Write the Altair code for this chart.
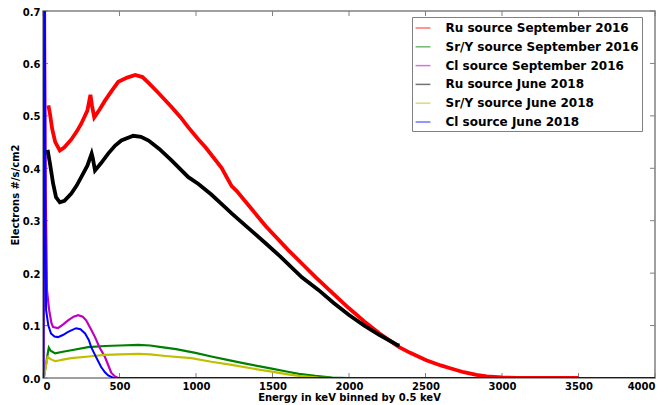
import altair as alt
import pandas as pd

series_names = [
    "Ru source September 2016",
    "Sr/Y source September 2016",
    "Cl source September 2016",
    "Ru source June 2018",
    "Sr/Y source June 2018",
    "Cl source June 2018",
]
series_colors = ["#ff0000", "#008000", "#bf00bf", "#000000", "#bfbf00", "#0000ff"]
series_widths = [3.8, 2.2, 2.2, 3.8, 2.2, 2.0]

ru16_e = [35, 45, 60, 80, 110, 140, 185, 220, 250, 290, 310, 320, 335, 370, 405, 450, 492, 550,
          603, 650, 690, 750, 840, 900, 950, 1016, 1062, 1167, 1233, 1265, 1350, 1455, 1600, 1700,
          1783, 1900, 2000, 2100, 2200, 2328, 2400, 2505, 2600, 2656, 2750, 2833, 2900, 3000, 3100, 3500]
ru16_v = [0.52, 0.505, 0.475, 0.45, 0.434, 0.44, 0.455, 0.47, 0.485, 0.51, 0.54, 0.52, 0.497, 0.512,
          0.529, 0.548, 0.565, 0.573, 0.578, 0.574, 0.563, 0.545, 0.517, 0.497, 0.478, 0.455, 0.44,
          0.401, 0.366, 0.357, 0.327, 0.29, 0.245, 0.216, 0.192, 0.16, 0.133, 0.108, 0.085, 0.059,
          0.048, 0.034, 0.024, 0.019, 0.011, 0.006, 0.003, 0.001, 0.0003, 0.0]

sry16_e = [5, 30, 38, 50, 79, 130, 185, 295, 405, 500, 623, 700, 774, 870, 996, 1100, 1213, 1300,
           1400, 1495, 1600, 1672, 1780, 1890, 2000]
sry16_v = [0.0, 0.045, 0.058, 0.052, 0.047, 0.05, 0.053, 0.059, 0.061, 0.062, 0.063, 0.062, 0.059,
           0.055, 0.048, 0.041, 0.034, 0.029, 0.023, 0.018, 0.012, 0.008, 0.004, 0.001, 0.0]

cl16_e = [3, 10, 18, 26, 40, 55, 66, 98, 130, 164, 200, 230, 260, 282, 310, 340, 370, 405, 430,
          446, 470, 492, 4000]
cl16_v = [0.0, 0.9, 0.35, 0.167, 0.13, 0.105, 0.097, 0.095, 0.102, 0.11, 0.117, 0.12, 0.117, 0.11,
          0.095, 0.078, 0.058, 0.04, 0.022, 0.01, 0.003, 0.0, 0.0]

ru18_e = [30, 45, 66, 85, 110, 140, 185, 220, 250, 290, 318, 325, 340, 380, 426, 470, 512, 590,
          640, 690, 760, 840, 950, 1016, 1100, 1193, 1233, 1350, 1455, 1550, 1692, 1800, 1900, 2000,
          2100, 2200, 2315, 2330]
ru18_v = [0.435, 0.41, 0.371, 0.345, 0.335, 0.338, 0.352, 0.367, 0.383, 0.405, 0.428, 0.42, 0.396,
          0.41, 0.428, 0.443, 0.453, 0.462, 0.46, 0.453, 0.437, 0.415, 0.383, 0.37, 0.35, 0.325,
          0.314, 0.284, 0.257, 0.232, 0.192, 0.168, 0.143, 0.12, 0.1, 0.082, 0.063, 0.062]

sry18_e = [5, 30, 50, 79, 130, 185, 300, 405, 500, 623, 700, 800, 970, 1100, 1233, 1350, 1495,
           1600, 1672, 1800, 1900]
sry18_v = [0.0, 0.04, 0.036, 0.032, 0.035, 0.038, 0.041, 0.044, 0.045, 0.046, 0.045, 0.042, 0.038,
           0.031, 0.025, 0.019, 0.012, 0.007, 0.004, 0.001, 0.0]

cl18_e = [3, 10, 16, 20, 35, 52, 75, 98, 130, 164, 216, 245, 275, 300, 315, 350, 380, 405, 426,
          460, 4000]
cl18_v = [0.0, 0.9, 0.3, 0.13, 0.1, 0.085, 0.079, 0.078, 0.082, 0.088, 0.095, 0.093, 0.085, 0.072,
          0.059, 0.038, 0.021, 0.011, 0.005, 0.0, 0.0]

x_ticks = [0, 500, 1000, 1500, 2000, 2500, 3000, 3500, 4000]
y_ticks = [0.0, 0.1, 0.2, 0.3, 0.4, 0.5, 0.6, 0.7]

all_e = [ru16_e, sry16_e, cl16_e, ru18_e, sry18_e, cl18_e]
all_v = [ru16_v, sry16_v, cl16_v, ru18_v, sry18_v, cl18_v]

frames = []
for i, name in enumerate(series_names):
    frames.append(pd.DataFrame({"energy": all_e[i], "flux": all_v[i], "series": name}))
df = pd.concat(frames, ignore_index=True)

W, H = 612, 367
FONT = "DejaVu Sans"

x_scale = alt.Scale(domain=[0, 4000], nice=False, zero=False)
y_scale = alt.Scale(domain=[0, 0.7], nice=False, zero=False)

x_axis = alt.Axis(values=x_ticks, title="Energy in keV binned by 0.5 keV", grid=False, ticks=False,
                  domain=False, labelFont=FONT, labelFontWeight="bold", labelFontSize=10,
                  labelColor="black", labelPadding=3, titleFont=FONT, titleFontWeight="bold",
                  titleFontSize=10, titleColor="black", titlePadding=1, format="d")
y_axis = alt.Axis(values=y_ticks, title="Electrons #/s/cm2", grid=False, ticks=False,
                  domain=False, labelFont=FONT, labelFontWeight="bold", labelFontSize=10,
                  labelColor="black", labelPadding=3, labelOffset=1, titleFont=FONT,
                  titleFontWeight="bold", titleFontSize=10, titleColor="black", titlePadding=2,
                  format=".1f")

color = alt.Color(
    "series:N",
    scale=alt.Scale(domain=series_names, range=series_colors),
    title=None,
    legend=alt.Legend(
        orient="none", legendX=369, legendY=6, symbolType="stroke", symbolSize=220,
        symbolStrokeWidth=1.5, symbolOpacity=0.55, labelFont=FONT, labelFontWeight="bold",
        labelFontSize=12, labelColor="black", labelOffset=14, rowPadding=3.8,
        strokeColor="#808080", fillColor="white", padding=2.5, labelLimit=300,
    ),
)

xt = pd.DataFrame({"t": x_ticks})
yt = pd.DataFrame({"t": y_ticks})
tick_style = dict(color="#808080", strokeWidth=1)
X_T = alt.X("t:Q", scale=x_scale, axis=x_axis)
Y_T = alt.Y("t:Q", scale=y_scale, axis=y_axis)
ticks_bottom = alt.Chart(xt).mark_rule(**tick_style).encode(
    x=X_T, y=alt.value(H), y2=alt.value(H - 5))
ticks_top = alt.Chart(xt).mark_rule(**tick_style).encode(
    x=X_T, y=alt.value(0), y2=alt.value(5))
ticks_left = alt.Chart(yt).mark_rule(**tick_style).encode(
    y=Y_T, x=alt.value(0), x2=alt.value(5))
ticks_right = alt.Chart(yt).mark_rule(**tick_style).encode(
    y=Y_T, x=alt.value(W), x2=alt.value(W - 5))

layers = []
for i, name in enumerate(series_names):
    layers.append(
        alt.Chart(df)
        .transform_filter(alt.datum.series == name)
        .mark_line(clip=True, strokeWidth=series_widths[i])
        .encode(
            x=alt.X("energy:Q", scale=x_scale, axis=x_axis),
            y=alt.Y("flux:Q", scale=y_scale, axis=y_axis),
            color=color,
            order="energy:Q",
        )
    )

chart = (
    alt.layer(ticks_bottom, ticks_top, ticks_left, ticks_right, *layers)
    .properties(width=W, height=H, padding={"left": 35, "top": 3, "right": 7, "bottom": 27},
                autosize=alt.AutoSizeParams(type="none"), background="white")
    .configure_view(stroke="#808080", strokeWidth=1.5)
)

chart.save("out.html", embed_options={"renderer": "svg", "actions": False})
